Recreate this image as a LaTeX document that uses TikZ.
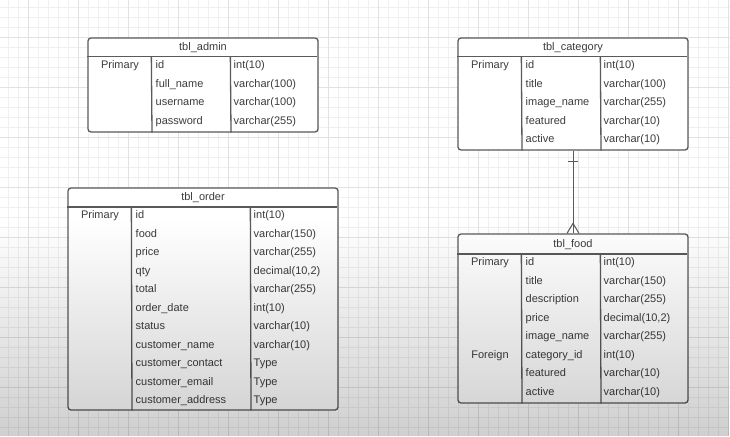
\documentclass[tikz,border=0pt]{standalone}
\usepackage{fontspec}
\setmainfont{Liberation Sans}
\usepackage{tikz}
\usepackage{xcolor}
\usetikzlibrary{fadings}

\definecolor{lineGray}{HTML}{5A5A5A}
\definecolor{textGray}{HTML}{3C3C3C}
\definecolor{gridMinor}{HTML}{F0F0F0}
\definecolor{gridMajor}{HTML}{E2E2E2}

\tikzset{
  tbl/.style={draw=lineGray,line width=1.3pt,rounded corners=3pt,fill=white,inner sep=0pt},
  sep/.style={draw=lineGray,line width=1.3pt},
  txt/.style={text=textGray,inner sep=0pt,text height=8pt,text depth=2.5pt,font=\fontsize{11}{13}\selectfont},
  fld/.style={txt,anchor=west},
}

\begin{document}
\begin{tikzpicture}[x=1pt,y=-1pt]
                \useasboundingbox (0,0) rectangle (730,436);
                \fill[white] (0,0) rectangle (730,436);
                % grid
                \foreach \X in {8,18,...,728} \draw[gridMinor,line width=0.6pt] (\X,0) -- (\X,436);
                \foreach \Y in {7,17,...,436} \draw[gridMinor,line width=0.6pt] (0,\Y) -- (730,\Y);
                \foreach \X in {28,78,...,728} \draw[gridMajor,line width=0.7pt] (\X,0) -- (\X,436);
                \foreach \Y in {37,87,...,436} \draw[gridMajor,line width=0.7pt] (0,\Y) -- (730,\Y);

                % tbl_admin
                \node[tbl,minimum width=230pt,minimum height=94pt] (admin) at (203,85) {};
                \draw[sep] (admin.north west) ++(0,19.5) -- ++(230,0);
                \draw[sep] (admin.north west) ++(64,19.5) -- (admin.south west -| 152,0);
                \draw[sep] (admin.north west) ++(143,19.5) -- (admin.south west -| 231,0);
                \node[txt] (adminhead) at (203,47.5) {tbl\_admin};
                \node[txt] (adminkey) at (120,66) {Primary};
                \foreach \Row/\Field/\Type in {0/id/int(10), 1/full\_name/varchar(100), 2/username/varchar(100), 3/password/varchar(255)}
                \node[fld] (admin-f\Row) at (155.5,66+18.5*\Row) {\Field} node[fld] (admin-t\Row) at (233.5,66+18.5*\Row) {\Type};

                % tbl_category
                \node[tbl,minimum width=230pt,minimum height=112pt] (category) at (573,94) {};
                \draw[sep] (category.north west) ++(0,19.5) -- ++(230,0);
                \draw[sep] (category.north west) ++(64,19.5) -- (category.south west -| 522,0);
                \draw[sep] (category.north west) ++(143,19.5) -- (category.south west -| 601,0);
                \node[txt] (categoryhead) at (573,47.5) {tbl\_category};
                \node[txt] (categorykey) at (490,66) {Primary};
                \foreach \Row/\Field/\Type in {0/id/int(10), 1/title/varchar(100), 2/image\_name/varchar(255), 3/featured/varchar(10), 4/active/varchar(10)}
                \node[fld] (category-f\Row) at (525.5,66+18.5*\Row) {\Field} node[fld] (category-t\Row) at (603.5,66+18.5*\Row) {\Type};

                % tbl_order
                \node[tbl,minimum width=270pt,minimum height=222pt] (order) at (203,299) {};
                \draw[sep] (order.north west) ++(0,19.5) -- ++(270,0);
                \draw[sep] (order.north west) ++(64,19.5) -- (order.south west -| 132,0);
                \draw[sep] (order.north west) ++(183,19.5) -- (order.south west -| 251,0);
                \node[txt] (orderhead) at (203,197.5) {tbl\_order};
                \node[txt] (orderkey) at (100,216) {Primary};
                \foreach \Row/\Field/\Type in {0/id/int(10), 1/food/varchar(150), 2/price/varchar(255), 3/qty/decimal(10{,}2), 4/total/varchar(255), 5/order\_date/int(10), 6/status/varchar(10), 7/customer\_name/varchar(10), 8/customer\_contact/Type, 9/customer\_email/Type, 10/customer\_address/Type}
                \node[fld] (order-f\Row) at (135.5,216+18.5*\Row) {\Field} node[fld] (order-t\Row) at (253.5,216+18.5*\Row) {\Type};

                % tbl_food
                \node[tbl,minimum width=230pt,minimum height=169pt] (food) at (573,318.5) {};
                \draw[sep] (food.north west) ++(0,20.5) -- ++(230,0);
                \draw[sep] (food.north west) ++(64,20.5) -- (food.south west -| 522,0);
                \draw[sep] (food.north west) ++(143,20.5) -- (food.south west -| 601,0);
                \node[txt] (foodhead) at (573,245) {tbl\_food};
                \node[txt] (foodkey) at (490,263) {Primary};
                \node[txt] (foodfkey) at (490,355.5) {Foreign};
                \foreach \Row/\Field/\Type in {0/id/int(10), 1/title/varchar(150), 2/description/varchar(255), 3/price/decimal(10{,}2), 4/image\_name/varchar(255), 5/category\_id/int(10), 6/featured/varchar(10), 7/active/varchar(10)}
                \node[fld] (food-f\Row) at (525.5,263+18.5*\Row) {\Field} node[fld] (food-t\Row) at (603.5,263+18.5*\Row) {\Type};

                % one category -- many food
                \draw[sep,line width=1pt] (category.south) -- (food.north);
                \draw[sep,line width=1pt] (category.south) ++(-5,11) -- ++(10,0);
                \draw[sep,line width=1pt] (food.north) ++(0,-10) -- ++(-6,10);
                \draw[sep,line width=1pt] (food.north) ++(0,-10) -- ++(6,10);

                % darker towards the bottom
                \fill[black,opacity=0.19,path fading=north] (0,220) rectangle (730,436);
            \end{tikzpicture}
\end{document}
